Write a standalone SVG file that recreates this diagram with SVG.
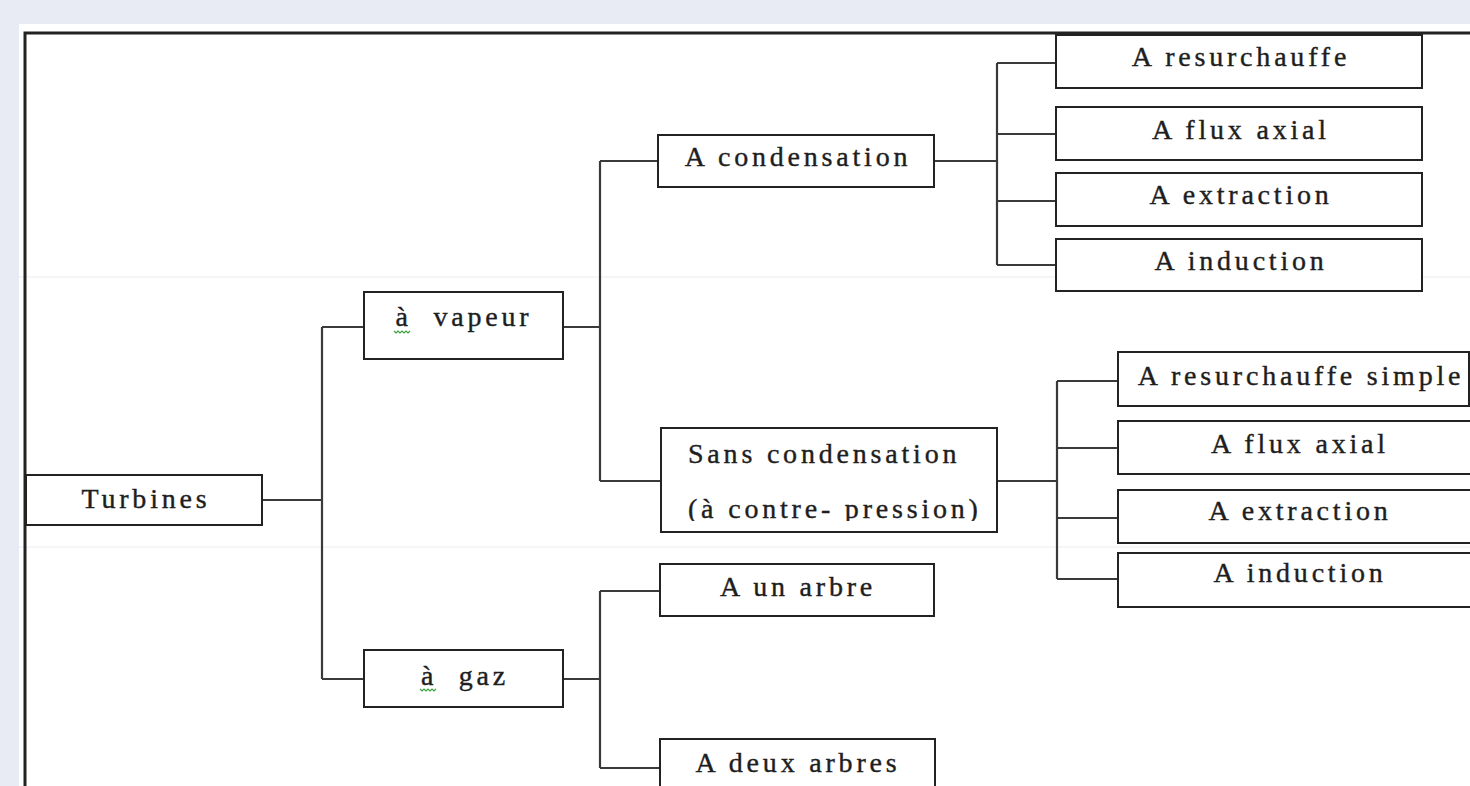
<svg xmlns="http://www.w3.org/2000/svg" width="1470" height="786" viewBox="0 0 1470 786">
<style>
.box{fill:#fff;stroke:#222;stroke-width:2}
.con{fill:none;stroke:#3a3a3a;stroke-width:2.2}
.t{font-family:Liberation Serif,serif !important;font-size:28px;letter-spacing:3.8px;fill:#1e1e1e;stroke:#1e1e1e;stroke-width:0.4px;text-anchor:middle}
.ts{text-anchor:start}
.sq{fill:none;stroke:#3aa03a;stroke-width:1.2}
</style>
<defs>
<clipPath id="clipSans"><rect x="661" y="428" width="336" height="93"/></clipPath>
</defs>
<rect x="0" y="0" width="1470" height="786" fill="#e8ebf3"/>
<rect x="19" y="24" width="1451" height="762" fill="#fff"/>
<line x1="19" y1="277" x2="1470" y2="277" stroke="#ececf2" stroke-width="1"/>
<line x1="19" y1="547" x2="1470" y2="547" stroke="#ececf2" stroke-width="1"/>
<path d="M25 786 V33 H1470" fill="none" stroke="#222" stroke-width="3"/>

<g id="connectors">
<path class="con" d="M262 500 H322 M322 327 V679 M322 327 H364 M322 679 H364"/>
<path class="con" d="M563 327 H600 M600 161 V481 M600 161 H658 M600 481 H661"/>
<path class="con" d="M563 679 H600 M600 591 V768 M600 591 H660 M600 768 H660"/>
<path class="con" d="M934 161 H997 M997 63 V265 M997 63 H1056 M997 134 H1056 M997 201 H1056 M997 265 H1056"/>
<path class="con" d="M997 481 H1057 M1057 381 V579 M1057 381 H1118 M1057 448 H1118 M1057 518 H1118 M1057 579 H1118"/>
</g>

<g id="turbines"><rect class="box" x="26" y="475" width="236" height="50"/><text class="t" style="font-family:'Liberation Serif',serif" x="146" y="508">Turbines</text></g>

<g id="vapeur"><rect class="box" x="364" y="292" width="199" height="67"/><text class="t" style="font-family:'Liberation Serif',serif" x="464" y="326">à&#160; vapeur</text><path class="sq" d="M394 331 l2 2 l2 -2 l2 2 l2 -2 l2 2 l2 -2 l2 2 l2 -2"/></g>

<g id="gaz"><rect class="box" x="364" y="650" width="199" height="57"/><text class="t" style="font-family:'Liberation Serif',serif" x="465" y="685">à&#160; gaz</text><path class="sq" d="M420 689 l2 2 l2 -2 l2 2 l2 -2 l2 2 l2 -2 l2 2 l2 -2"/></g>

<g id="condensation"><rect class="box" x="658" y="135" width="276" height="52"/><text class="t" style="font-family:'Liberation Serif',serif" x="798" y="166">A condensation</text></g>

<g id="sans-condensation"><rect class="box" x="661" y="428" width="336" height="104"/><g clip-path="url(#clipSans)"><text class="t ts" style="font-family:'Liberation Serif',serif" x="688" y="463">Sans condensation</text><text class="t ts" style="font-family:'Liberation Serif',serif" x="688" y="518">(à contre- pression)</text></g></g>

<g id="un-arbre"><rect class="box" x="660" y="564" width="274" height="52"/><text class="t" style="font-family:'Liberation Serif',serif" x="798" y="596">A un arbre</text></g>

<g id="deux-arbres"><rect class="box" x="660" y="739" width="275" height="60"/><text class="t" style="font-family:'Liberation Serif',serif" x="798" y="772">A deux arbres</text></g>

<g id="c-resurchauffe"><rect class="box" x="1056" y="35" width="366" height="53"/><text class="t" style="font-family:'Liberation Serif',serif" x="1241" y="66">A resurchauffe</text></g>
<g id="c-flux-axial"><rect class="box" x="1056" y="107" width="366" height="53"/><text class="t" style="font-family:'Liberation Serif',serif" x="1241" y="139">A flux axial</text></g>
<g id="c-extraction"><rect class="box" x="1056" y="173" width="366" height="53"/><text class="t" style="font-family:'Liberation Serif',serif" x="1241" y="204">A extraction</text></g>
<g id="c-induction"><rect class="box" x="1056" y="239" width="366" height="52"/><text class="t" style="font-family:'Liberation Serif',serif" x="1241" y="270">A induction</text></g>

<g id="s-resurchauffe-simple"><rect class="box" x="1118" y="352" width="351" height="54"/><text class="t" style="font-family:'Liberation Serif',serif" x="1301" y="385">A resurchauffe simple</text></g>
<g id="s-flux-axial"><rect class="box" x="1118" y="421" width="370" height="53"/><text class="t" style="font-family:'Liberation Serif',serif" x="1300" y="453">A flux axial</text></g>
<g id="s-extraction"><rect class="box" x="1118" y="490" width="370" height="53"/><text class="t" style="font-family:'Liberation Serif',serif" x="1300" y="520">A extraction</text></g>
<g id="s-induction"><rect class="box" x="1118" y="553" width="370" height="54"/><text class="t" style="font-family:'Liberation Serif',serif" x="1300" y="582">A induction</text></g>
</svg>
